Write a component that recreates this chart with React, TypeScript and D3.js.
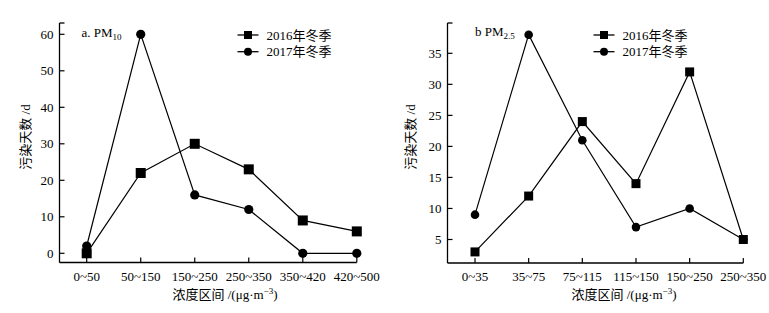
import React from "react";
import * as d3 from "d3";

const catsPM10 = ["0~50", "50~150", "150~250", "250~350", "350~420", "420~500"];
const pm10_2016 = [0, 22, 30, 23, 9, 6];
const pm10_2017 = [2, 60, 16, 12, 0, 0];
const ticksPM10 = [0, 10, 20, 30, 40, 50, 60];

const catsPM25 = ["0~35", "35~75", "75~115", "115~150", "150~250", "250~350"];
const pm25_2016 = [3, 12, 24, 14, 32, 5];
const pm25_2017 = [9, 38, 21, 7, 10, 5];
const ticksPM25 = [5, 10, 15, 20, 25, 30, 35];

const seriesNames = ["2016年冬季", "2017年冬季"];

const FONT = "'Liberation Serif', 'Times New Roman', 'Noto Sans CJK SC', serif";

type PanelProps = {
  cats: string[];
  s2016: number[];
  s2017: number[];
  ticks: number[];
  axisX: number;
  axisBottom: number;
  axisTop: number;
  firstX: number;
  lastX: number;
  yDomain: [number, number];
  yRange: [number, number];
  titleMain: string;
  titleSub: string;
  titleX: number;
  titleY: number;
  legendX: number;
  yTitleX: number;
  xTitleX: number;
  sq: number;
  cr: number;
};

function Panel(p: PanelProps) {
  const x = d3.scalePoint<string>().domain(p.cats).range([p.firstX, p.lastX]).padding(0);
  const y = d3.scaleLinear().domain(p.yDomain).range(p.yRange);
  const line = d3
    .line<number>()
    .x((_, i) => x(p.cats[i]) as number)
    .y((d) => y(d));
  const tickLen = 5;
  return (
    <g fontFamily={FONT} fill="#000">
      {/* y axis */}
      <line x1={p.axisX} x2={p.axisX} y1={p.axisTop} y2={p.axisBottom} stroke="#000" strokeWidth={1.3} />
      <line x1={p.axisX} x2={p.axisX + tickLen} y1={p.axisTop} y2={p.axisTop} stroke="#000" strokeWidth={1.3} />
      {p.ticks.map((t) => (
        <g key={t}>
          <line x1={p.axisX} x2={p.axisX + tickLen} y1={y(t)} y2={y(t)} stroke="#000" strokeWidth={1.2} />
          <text x={p.axisX - 6} y={y(t)} dy="0.35em" textAnchor="end" fontSize={13}>
            {t}
          </text>
        </g>
      ))}
      {/* x axis */}
      <line x1={p.axisX} x2={p.lastX} y1={p.axisBottom} y2={p.axisBottom} stroke="#000" strokeWidth={1.3} />
      {p.cats.map((c) => (
        <g key={c}>
          <line
            x1={x(c)}
            x2={x(c)}
            y1={p.axisBottom}
            y2={p.axisBottom - tickLen}
            stroke="#000"
            strokeWidth={1.2}
          />
          <text x={x(c)} y={p.axisBottom + 18} textAnchor="middle" fontSize={13}>
            {c}
          </text>
        </g>
      ))}
      {/* axis titles */}
      <text
        transform={`translate(${p.yTitleX},${137}) rotate(-90)`}
        textAnchor="middle"
        dy="0.35em"
        fontSize={13}
      >
        污染天数 /d
      </text>
      <text x={p.xTitleX} y={299} textAnchor="middle" fontSize={13}>
        浓度区间 /(μg·m
        <tspan fontSize={9} dy={-5}>
          −3
        </tspan>
        <tspan dy={5}>)</tspan>
      </text>
      {/* panel title */}
      <text x={p.titleX} y={p.titleY} fontSize={13}>
        {p.titleMain}
        <tspan fontSize={9} dy={3}>
          {p.titleSub}
        </tspan>
      </text>
      {/* series 2017 */}
      <path d={line(p.s2017) as string} fill="none" stroke="#000" strokeWidth={1.2} />
      {p.s2017.map((v, i) => (
        <circle key={"c" + i} cx={x(p.cats[i])} cy={y(v)} r={p.cr} fill="#000" />
      ))}
      {/* series 2016 */}
      <path d={line(p.s2016) as string} fill="none" stroke="#000" strokeWidth={1.2} />
      {p.s2016.map((v, i) => (
        <rect
          key={"s" + i}
          x={(x(p.cats[i]) as number) - p.sq / 2}
          y={y(v) - p.sq / 2}
          width={p.sq}
          height={p.sq}
          fill="#000"
        />
      ))}
      {/* legend */}
      {seriesNames.map((n, i) => {
        const ly = 35 + i * 16.7;
        const mx = p.legendX + 10.5;
        return (
          <g key={n}>
            <line x1={p.legendX} x2={p.legendX + 21} y1={ly} y2={ly} stroke="#000" strokeWidth={1.3} />
            {i === 0 ? (
              <rect x={mx - 4} y={ly - 4} width={8} height={8} fill="#000" />
            ) : (
              <circle cx={mx} cy={ly} r={4} fill="#000" />
            )}
            <text x={p.legendX + 29} y={ly} dy="0.35em" fontSize={13}>
              {n}
            </text>
          </g>
        );
      })}
    </g>
  );
}

export default function App() {
  return (
    <svg
      width={769}
      height={313}
      style={{ position: "absolute", left: 0, top: 0, background: "#fff" }}
    >
      <rect width={769} height={313} fill="#fff" />
      <Panel
        cats={catsPM10}
        s2016={pm10_2016}
        s2017={pm10_2017}
        ticks={ticksPM10}
        axisX={59.5}
        axisBottom={262.5}
        axisTop={23}
        firstX={86.7}
        lastX={356.8}
        yDomain={[0, 60]}
        yRange={[253.3, 34.3]}
        titleMain="a. PM"
        titleSub="10"
        titleX={81.5}
        titleY={37}
        legendX={237.5}
        yTitleX={25}
        xTitleX={225}
        sq={10}
        cr={4.6}
      />
      <Panel
        cats={catsPM25}
        s2016={pm25_2016}
        s2017={pm25_2017}
        ticks={ticksPM25}
        axisX={447.5}
        axisBottom={263}
        axisTop={23}
        firstX={475}
        lastX={743.3}
        yDomain={[5, 35]}
        yRange={[239.5, 53.3]}
        titleMain="b PM"
        titleSub="2.5"
        titleX={475}
        titleY={36}
        legendX={593.5}
        yTitleX={410}
        xTitleX={624}
        sq={9}
        cr={4.3}
      />
    </svg>
  );
}
